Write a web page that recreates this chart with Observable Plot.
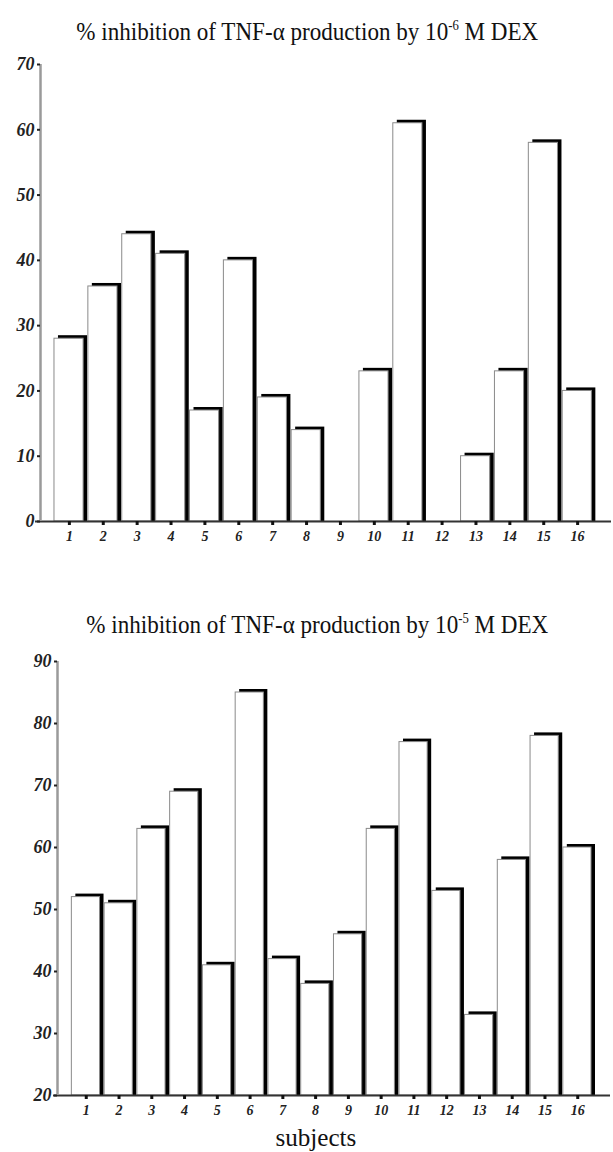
<!DOCTYPE html>
<html><head><meta charset="utf-8">
<script src="https://cdn.jsdelivr.net/npm/d3@7"></script>
<script src="https://cdn.jsdelivr.net/npm/@observablehq/plot@0.6"></script>
<style>
html,body{margin:0;padding:0;background:#fff;}
body{width:613px;height:1152px;position:relative;overflow:hidden;font-family:"Liberation Serif","DejaVu Serif",serif;}
.t{position:absolute;white-space:nowrap;font-size:26px;line-height:1;color:#111;transform-origin:center center;font-family:"Liberation Serif","DejaVu Serif",serif;}
.t sup{font-size:0.55em;vertical-align:0;position:relative;top:-0.72em;}
.chart{position:absolute;left:0;}
.chart svg text{font-family:"Liberation Serif","DejaVu Serif",serif !important;font-style:italic !important;font-weight:bold !important;}
.chart g[aria-label="y-axis tick label"], .chart g[aria-label="y-axis tick label"] text{font-size:18px !important;}
.chart g[aria-label="x-axis tick label"], .chart g[aria-label="x-axis tick label"] text{font-size:14px !important;}
</style></head><body>
<div id="t1" class="t">% inhibition of TNF-α production by 10<sup>-6</sup> M DEX</div>
<div id="t2" class="t">% inhibition of TNF-α production by 10<sup>-5</sup> M DEX</div>
<div id="t3" class="t">subjects</div>
<div id="c1" class="chart"></div>
<div id="c2" class="chart"></div>
<script>
// ---- data ----
const subjects = [1,2,3,4,5,6,7,8,9,10,11,12,13,14,15,16];
const inhibition6 = [28,36,44,41,17,40,19,14,0,23,61,0,10,23,58,20]; // 10^-6 M DEX
const inhibition5 = [52,51,63,69,41,85,42,38,46,63,77,53,33,58,78,60]; // 10^-5 M DEX
const yTicks6 = [0,10,20,30,40,50,60,70];
const yTicks5 = [20,30,40,50,60,70,80,90];

function place(id, cx, top, targetW) {
  const el = document.getElementById(id);
  const w = el.getBoundingClientRect().width;
  el.style.left = (cx - w / 2) + "px";
  el.style.top = top + "px";
  el.style.transform = `scaleX(${targetW / w})`;
}
place("t1", 307, 19, 462);
place("t2", 317, 612, 462);
place("t3", 316, 1125, 81);

function chart(el, {values, base, yDomain, yTicks, top, height, mt, mb, ml, mr, axisDx}) {
  const data = subjects.map((s, i) => ({s, v: values[i]})).filter(d => d.v > base);
  const x1 = d => d.s - 0.44, x2 = d => d.s + 0.42;
  const txt = {fontFamily: "Liberation Serif, serif", fontStyle: "italic", fontWeight: "bold", fill: "#222"};
  const svg = Plot.plot({
    width: 613, height,
    marginTop: mt, marginBottom: mb, marginLeft: ml, marginRight: mr,
    x: {type: "linear", domain: [0, 17], axis: null, label: null},
    y: {domain: yDomain, axis: null, label: null},
    style: {background: "transparent", overflow: "visible"},
    marks: [
      Plot.rect(data, {x1, x2, y1: d => base, y2: "v", fill: "#000", dx: 4, dy: -3, insetBottom: -3}),
      Plot.rect(data, {x1, x2, y1: d => base, y2: "v", fill: "#fff", stroke: "#8a8a8a", strokeWidth: 1}),
      Plot.ruleY([base], {stroke: "#333", strokeWidth: 2}),
      Plot.ruleX([0], {y1: d => base, y2: d => yDomain[1], stroke: "#9a9a9a", strokeWidth: 2.5, dx: axisDx}),
      Plot.axisY(yTicks, {anchor: "left", label: null, tickSize: 3, tickPadding: 3, dx: axisDx, stroke: "#222", strokeWidth: 2,
        fontSize: 18, tickFormat: d => String(d), ...txt}),
      Plot.axisX(subjects, {anchor: "bottom", label: null, tickSize: 4, tickPadding: 6, stroke: "#111", strokeWidth: 3,
        fontSize: 14, tickFormat: d => String(d), ...txt})
    ]
  });
  el.style.top = top + "px";
  el.appendChild(svg);
}

chart(document.getElementById("c1"), {values: inhibition6, base: 0, yDomain: [0, 70], yTicks: yTicks6,
  top: 50, height: 510, mt: 14, mb: 39, ml: 35, mr: 2, axisDx: 5});
chart(document.getElementById("c2"), {values: inhibition5, base: 20, yDomain: [20, 90], yTicks: yTicks5,
  top: 640, height: 512, mt: 21, mb: 57, ml: 53, mr: 3, axisDx: 4});
</script>
</body></html>
